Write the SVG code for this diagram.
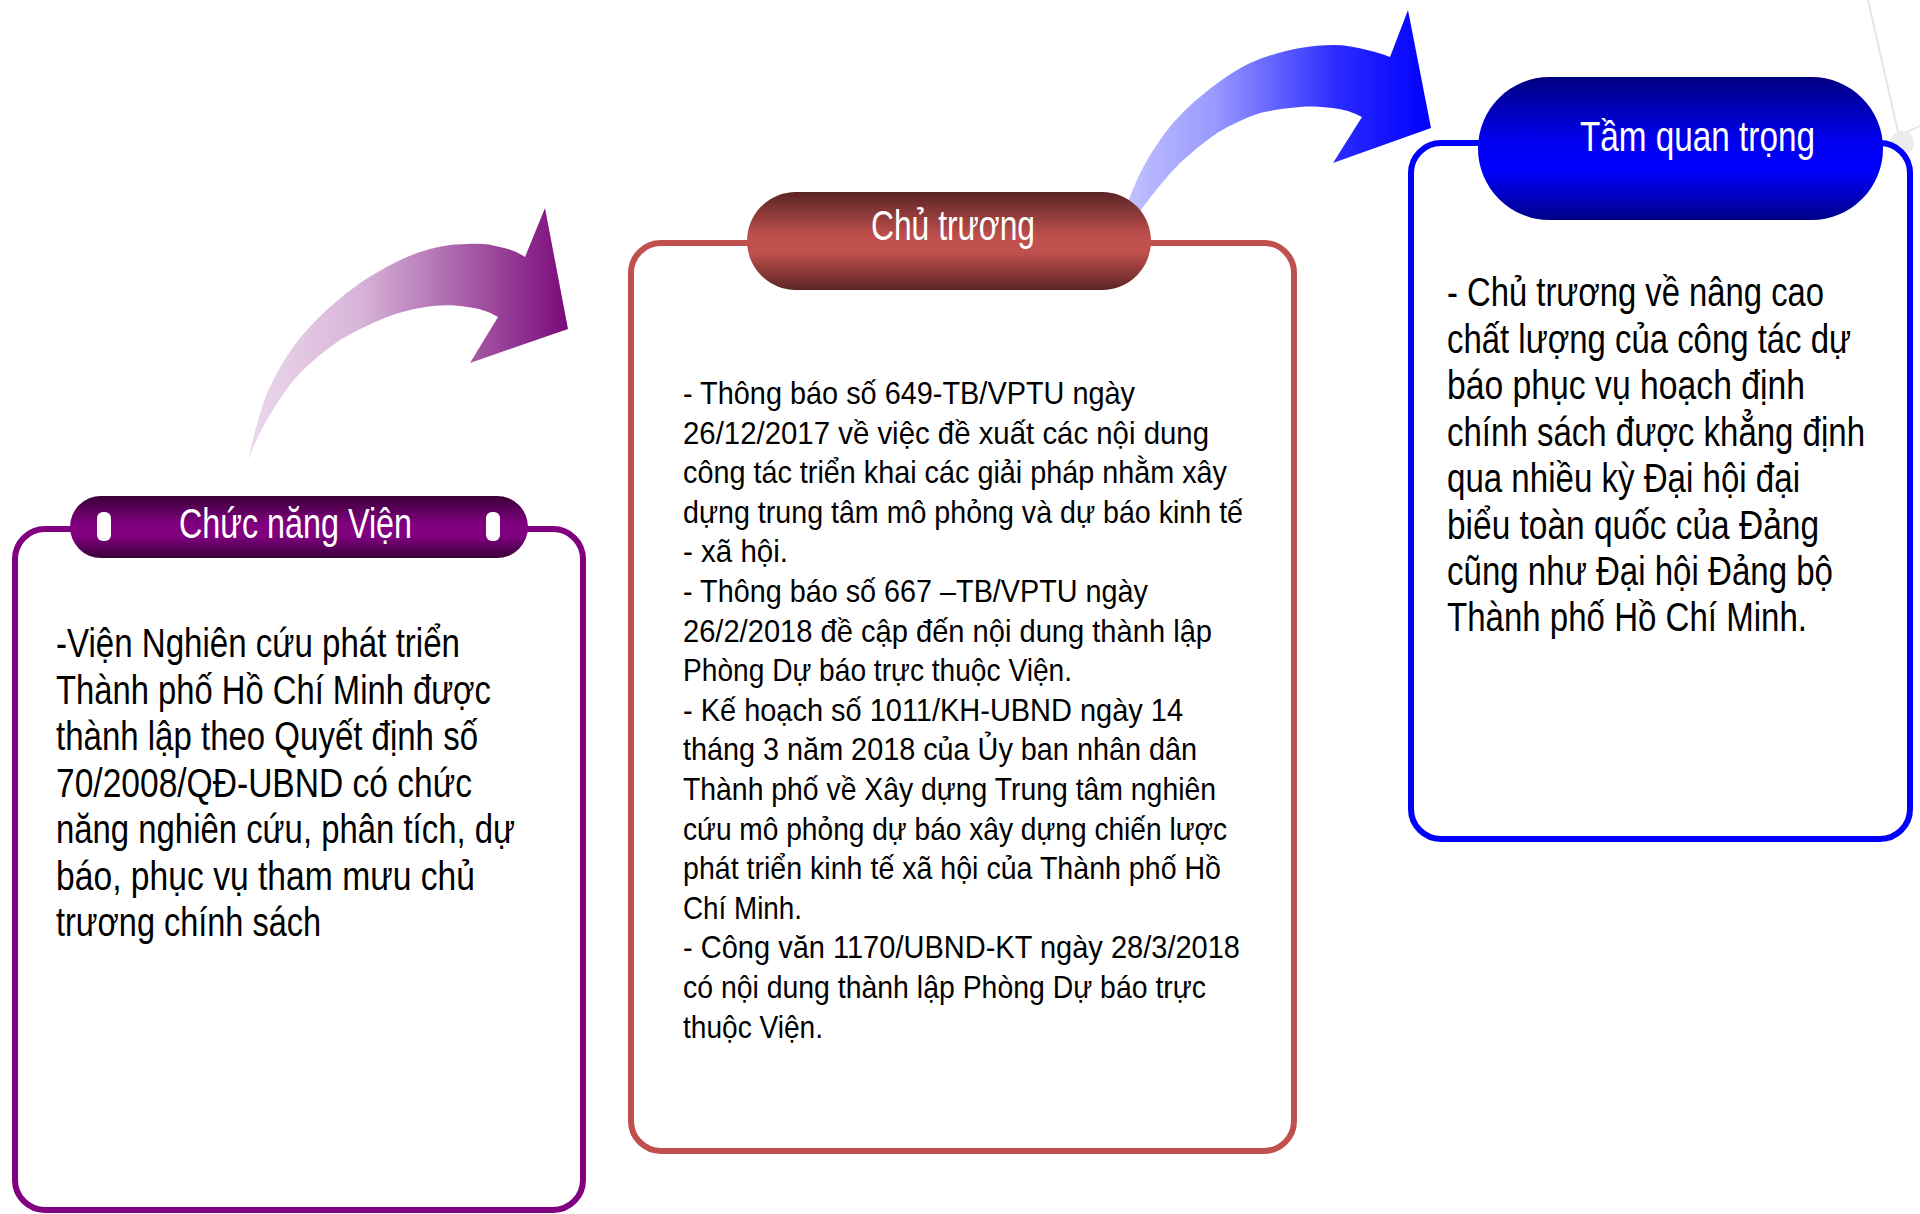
<svg xmlns="http://www.w3.org/2000/svg" width="1920" height="1214" viewBox="0 0 1920 1214">
<defs>
<linearGradient id="gArrowP" x1="248" y1="0" x2="568" y2="0" gradientUnits="userSpaceOnUse">
<stop offset="0" stop-color="#ecd8ec"/><stop offset="0.35" stop-color="#d8b4d8"/><stop offset="1" stop-color="#7a0a7a"/>
</linearGradient>
<linearGradient id="gArrowB" x1="1120" y1="0" x2="1431" y2="0" gradientUnits="userSpaceOnUse">
<stop offset="0" stop-color="#c4c4ff"/><stop offset="0.3" stop-color="#9a9aff"/><stop offset="0.7" stop-color="#2a2aff"/><stop offset="1" stop-color="#0000ff"/>
</linearGradient>
<linearGradient id="gPillP" x1="0" y1="0" x2="0" y2="1">
<stop offset="0" stop-color="#3a0036"/><stop offset="0.45" stop-color="#800080"/><stop offset="0.65" stop-color="#800080"/><stop offset="1" stop-color="#3a0036"/>
</linearGradient>
<linearGradient id="gPillR" x1="0" y1="0" x2="0" y2="1">
<stop offset="0" stop-color="#5a2424"/><stop offset="0.45" stop-color="#c0504d"/><stop offset="0.62" stop-color="#c0504d"/><stop offset="1" stop-color="#5a2424"/>
</linearGradient>
<linearGradient id="gPillB" x1="0" y1="0" x2="0" y2="1">
<stop offset="0" stop-color="#000080"/><stop offset="0.45" stop-color="#0000f0"/><stop offset="0.65" stop-color="#0000ff"/><stop offset="1" stop-color="#000088"/>
</linearGradient>
</defs>
<style>
.box{fill:#ffffff;stroke-width:6}
.hdr{font-family:'Liberation Sans Narrow','Liberation Sans',Arial,sans-serif;font-size:42px;fill:#ffffff}
.big{font-family:'Liberation Sans Narrow','Liberation Sans',Arial,sans-serif;font-size:41px;fill:#000000}
.sm{font-family:'Liberation Sans Narrow','Liberation Sans',Arial,sans-serif;font-size:32px;fill:#000000}
.deco{stroke:#e6e6e6;stroke-width:2;fill:none}
</style>
<rect width="1920" height="1214" fill="#ffffff"/>

<g id="decoration">
<path class="deco" d="M1868,0 L1899,136 L1920,126"/>
<circle cx="1902" cy="143" r="12" fill="#ececec"/>
</g>

<g id="connectors">
<path id="arrow-purple" fill="url(#gArrowP)" d="M248,460 C255,430 262,405 267,393 C280,365 293,345 307,330 C325,310 342,296 360,283 C380,270 398,260 417,253 C435,247 450,244 467,244 C480,243 490,244 500,247 C510,249 518,252 525,257 L545,208 L568,329 L470,363 L498,317 C488,311 478,308 467,307 C455,305 445,305 433,306 C418,308 402,311 387,317 C370,324 355,331 340,340 C325,350 312,361 300,373 C288,386 277,402 267,420 C260,432 253,447 248,460 Z"/>
<path id="arrow-blue" fill="url(#gArrowB)" d="M1118,225 C1122,215 1126,205 1130,197 C1138,175 1148,157 1160,140 C1172,123 1185,109 1200,97 C1215,84 1232,72 1250,63 C1266,56 1283,51 1300,48 C1312,46 1322,45 1333,45 C1345,45 1356,47 1367,50 C1376,52 1383,54 1390,57 L1408,10 L1431,128 L1333,163 L1362,117 C1353,112 1343,109 1333,108 C1322,107 1311,106 1300,107 C1287,108 1273,110 1260,113 C1245,118 1230,125 1217,133 C1204,142 1192,152 1180,163 C1167,176 1155,191 1143,207 C1138,215 1134,223 1130,232 Z"/>
</g>

<g id="node-chuc-nang">
<rect class="box" x="15" y="529" width="568" height="681" rx="30" stroke="#800080"/>
<rect x="70" y="496" width="458" height="62" rx="31" fill="url(#gPillP)"/>
<rect x="97" y="512" width="14" height="29" rx="6" fill="#ffffff"/>
<rect x="486" y="512" width="14" height="29" rx="6" fill="#ffffff"/>
<text class="hdr" x="179" y="538" textLength="233" lengthAdjust="spacingAndGlyphs">Chức năng Viện</text>
<text class="big" x="56" y="657" textLength="404" lengthAdjust="spacingAndGlyphs">-Viện Nghiên cứu phát triển</text>
<text class="big" x="56" y="704" textLength="435" lengthAdjust="spacingAndGlyphs">Thành phố Hồ Chí Minh được</text>
<text class="big" x="56" y="750" textLength="422" lengthAdjust="spacingAndGlyphs">thành lập theo Quyết định số</text>
<text class="big" x="56" y="797" textLength="416" lengthAdjust="spacingAndGlyphs">70/2008/QĐ-UBND  có chức</text>
<text class="big" x="56" y="843" textLength="459" lengthAdjust="spacingAndGlyphs">năng nghiên cứu, phân tích, dự</text>
<text class="big" x="56" y="890" textLength="419" lengthAdjust="spacingAndGlyphs">báo, phục vụ tham mưu chủ</text>
<text class="big" x="56" y="936" textLength="265" lengthAdjust="spacingAndGlyphs">trương chính sách</text>
</g>

<g id="node-chu-truong">
<rect class="box" x="631" y="243" width="663" height="908" rx="30" stroke="#c0504d"/>
<rect x="747" y="192" width="404" height="98" rx="49" fill="url(#gPillR)"/>
<text class="hdr" x="871" y="240" textLength="164" lengthAdjust="spacingAndGlyphs">Chủ trương</text>
<text class="sm" x="683" y="404" textLength="452" lengthAdjust="spacingAndGlyphs">- Thông báo số 649-TB/VPTU  ngày</text>
<text class="sm" x="683" y="443.6" textLength="526" lengthAdjust="spacingAndGlyphs">26/12/2017 về việc đề xuất các nội dung</text>
<text class="sm" x="683" y="483.2" textLength="544" lengthAdjust="spacingAndGlyphs">công tác triển khai các giải pháp nhằm xây</text>
<text class="sm" x="683" y="522.8" textLength="560" lengthAdjust="spacingAndGlyphs">dựng trung tâm mô phỏng và dự báo kinh tế</text>
<text class="sm" x="683" y="562.4" textLength="105" lengthAdjust="spacingAndGlyphs">- xã hội.</text>
<text class="sm" x="683" y="602" textLength="465" lengthAdjust="spacingAndGlyphs">- Thông báo số 667 –TB/VPTU  ngày</text>
<text class="sm" x="683" y="641.6" textLength="529" lengthAdjust="spacingAndGlyphs">26/2/2018 đề cập đến nội dung thành lập</text>
<text class="sm" x="683" y="681.2" textLength="389" lengthAdjust="spacingAndGlyphs">Phòng Dự báo trực thuộc Viện.</text>
<text class="sm" x="683" y="720.8" textLength="500" lengthAdjust="spacingAndGlyphs">- Kế hoạch số 1011/KH-UBND  ngày 14</text>
<text class="sm" x="683" y="760.4" textLength="514" lengthAdjust="spacingAndGlyphs">tháng 3 năm 2018 của Ủy ban nhân dân</text>
<text class="sm" x="683" y="800" textLength="533" lengthAdjust="spacingAndGlyphs">Thành phố về Xây dựng Trung tâm nghiên</text>
<text class="sm" x="683" y="839.6" textLength="544" lengthAdjust="spacingAndGlyphs">cứu mô phỏng dự báo xây dựng chiến lược</text>
<text class="sm" x="683" y="879.2" textLength="538" lengthAdjust="spacingAndGlyphs">phát triển kinh tế xã hội của Thành phố Hồ</text>
<text class="sm" x="683" y="918.8" textLength="119" lengthAdjust="spacingAndGlyphs">Chí Minh.</text>
<text class="sm" x="683" y="958.4" textLength="557" lengthAdjust="spacingAndGlyphs">- Công văn 1170/UBND-KT  ngày 28/3/2018</text>
<text class="sm" x="683" y="998" textLength="523" lengthAdjust="spacingAndGlyphs">có nội dung thành lập Phòng Dự báo trực</text>
<text class="sm" x="683" y="1037.6" textLength="140" lengthAdjust="spacingAndGlyphs">thuộc Viện.</text>
</g>

<g id="node-tam-quan-trong">
<rect class="box" x="1411" y="143" width="499" height="696" rx="30" stroke="#0000ff" stroke-width="7"/>
<rect x="1478" y="77" width="405" height="143" rx="71.5" fill="url(#gPillB)"/>
<text class="hdr" x="1580" y="151" textLength="235" lengthAdjust="spacingAndGlyphs">Tầm quan trọng</text>
<text class="big" x="1447" y="306" textLength="377" lengthAdjust="spacingAndGlyphs">- Chủ trương về nâng cao</text>
<text class="big" x="1447" y="352.5" textLength="404" lengthAdjust="spacingAndGlyphs">chất lượng của công tác dự</text>
<text class="big" x="1447" y="399" textLength="358" lengthAdjust="spacingAndGlyphs">báo phục vụ hoạch định</text>
<text class="big" x="1447" y="445.5" textLength="418" lengthAdjust="spacingAndGlyphs">chính sách được khẳng định</text>
<text class="big" x="1447" y="492" textLength="353" lengthAdjust="spacingAndGlyphs">qua nhiều kỳ Đại hội đại</text>
<text class="big" x="1447" y="538.5" textLength="372" lengthAdjust="spacingAndGlyphs">biểu toàn quốc của Đảng</text>
<text class="big" x="1447" y="585" textLength="386" lengthAdjust="spacingAndGlyphs">cũng như Đại hội Đảng bộ</text>
<text class="big" x="1447" y="631" textLength="360" lengthAdjust="spacingAndGlyphs">Thành phố Hồ Chí Minh.</text>
</g>
</svg>
